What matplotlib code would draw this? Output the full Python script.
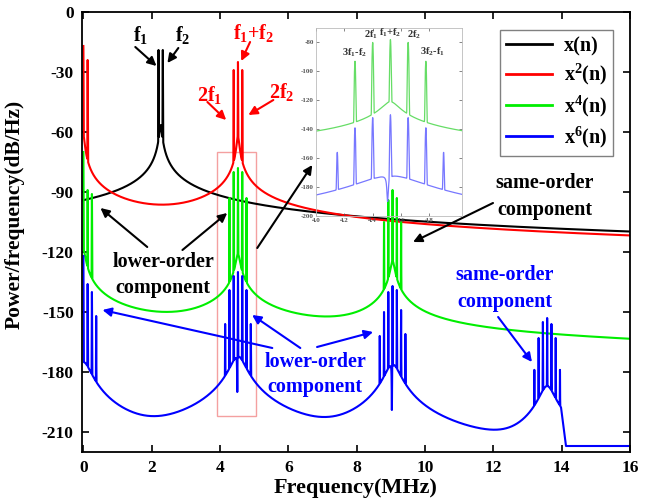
import numpy as np
import matplotlib
matplotlib.use("Agg")
import matplotlib.pyplot as plt
from matplotlib.patches import Rectangle

plt.rcParams.update({
    "font.family": ["Liberation Serif", "DejaVu Serif"],
    "font.weight": "bold",
    "mathtext.default": "regular",
    "axes.linewidth": 1.3,
    "axes.unicode_minus": False,
})

# ---------------------------------------------------------------------------
# Spectral content of each signal: discrete tones (MHz, peak dB/Hz) and the
# leakage skirt of every tone cluster (cluster centre MHz, level 1 MHz away).
# ---------------------------------------------------------------------------
series_labels = ["x(n)", "x$^2$(n)", "x$^4$(n)", "x$^6$(n)"]
series_colors = ["#000000", "#ff0000", "#00ee00", "#0000ff"]

x1_tone_mhz = [2.20, 2.325]
x1_tone_db = [-19, -19]
x1_skirt_mhz = [2.2625]
x1_skirt_db = [-87]

x2_tone_mhz = [0.0, 0.125, 4.40, 4.525, 4.65]
x2_tone_db = [-17, -24, -29, -25, -29]
x2_skirt_mhz = [0.0, 4.525]
x2_skirt_db = [-92, -92.5]

x4_tone_mhz = [0.0, 0.125, 0.25,
               4.275, 4.40, 4.525, 4.65, 4.775,
               8.80, 8.925, 9.05, 9.175, 9.30]
x4_tone_db = [-70, -89, -91,
              -93, -80, -78, -80, -93,
              -105, -94, -89, -93, -105]
x4_skirt_mhz = [0.0, 4.525, 9.05]
x4_skirt_db = [-145, -147, -150.5]

x6_tone_mhz = [0.0, 0.125, 0.25, 0.375,
               4.15, 4.275, 4.40, 4.525, 4.65, 4.775, 4.90,
               8.675, 8.80, 8.925, 9.05, 9.175, 9.30, 9.425,
               13.20, 13.325, 13.45, 13.575, 13.70, 13.825, 13.95]
x6_tone_db = [-122, -136, -140, -152,
              -156, -139, -132, -130, -132, -139, -156,
              -162, -150, -140, -137, -139, -149, -161,
              -179, -163, -155, -153, -156, -163, -179]
x6_skirt_mhz = [0.0, 4.525, 9.05, 13.575]
x6_skirt_db = [-196, -193, -197, -208]
x6_notch_mhz = [4.505, 9.03]
x6_notch_db = [-190, -199]
x6_floor_db = -217
x6_cutoff_mhz = 13.98

# skirt roll-off (dB/decade) and core width (MHz) of each series
skirt_slope = [20, 20, 20, 30]
skirt_core = [0.03, 0.03, 0.05, 0.2]

TONE_WIDTH = 0.002
FREQ_STEP = 0.0005


def psd(freq, tone_mhz, tone_db, skirt_mhz, skirt_db, slope, core,
        notch_mhz=(), notch_db=()):
    base = np.zeros_like(freq)
    for c, lvl in zip(skirt_mhz, skirt_db):
        d = np.sqrt((freq - c) ** 2 + core ** 2)
        base += 10 ** ((lvl - slope * np.log10(d)) / 10)
    base_db = 10 * np.log10(base)
    for c, lvl in zip(notch_mhz, notch_db):
        if not (freq[0] <= c <= freq[-1]):
            continue
        at_c = np.interp(c, freq, base_db)
        w = 0.006
        base_db = base_db - (at_c - lvl) * w ** 2 / ((freq - c) ** 2 + w ** 2)
    p = 10 ** (base_db / 10)
    for c, lvl in zip(tone_mhz, tone_db):
        p += 10 ** (lvl / 10) * np.exp(-0.5 * ((freq - c) / TONE_WIDTH) ** 2)
    return 10 * np.log10(p)


def spectra(freq):
    s1 = psd(freq, x1_tone_mhz, x1_tone_db, x1_skirt_mhz, x1_skirt_db,
             skirt_slope[0], skirt_core[0])
    s2 = psd(freq, x2_tone_mhz, x2_tone_db, x2_skirt_mhz, x2_skirt_db,
             skirt_slope[1], skirt_core[1])
    s4 = psd(freq, x4_tone_mhz, x4_tone_db, x4_skirt_mhz, x4_skirt_db,
             skirt_slope[2], skirt_core[2])
    s6 = psd(freq, x6_tone_mhz, x6_tone_db, x6_skirt_mhz, x6_skirt_db,
             skirt_slope[3], skirt_core[3], x6_notch_mhz, x6_notch_db)
    beyond = freq > x6_cutoff_mhz
    s6 = np.where(beyond,
                  np.maximum(x6_floor_db, s6 - 110 * (freq - x6_cutoff_mhz)),
                  s6)
    return [s1, s2, s4, s6]


freq = np.arange(0, 16 + FREQ_STEP / 2, FREQ_STEP)
curves = spectra(freq)

fig = plt.figure(figsize=(6.51, 5.04), dpi=100)
ax = fig.add_axes([82 / 651, 1 - 452 / 504, 548 / 651, 440 / 504])

lines = []
for y, c, lab in zip(curves, series_colors, series_labels):
    ln, = ax.plot(freq, y, color=c, lw=1.5, label=lab, zorder=2)
    lines.append(ln)

ax.set_xlim(-0.04, 16)
ax.set_ylim(-220, 0)
ax.set_xticks(np.arange(0, 17, 2))
ax.set_yticks(np.arange(-210, 1, 30))
ax.tick_params(direction="in", length=5, width=1.2, top=True, right=True,
               labelsize=12.5, pad=6)
for t in ax.get_xticklabels() + ax.get_yticklabels():
    t.set_fontweight("bold")
ax.set_xlabel("Frequency(MHz)", fontsize=16, fontweight="bold", labelpad=1)
ax.set_ylabel("Power/frequency(dB/Hz)", fontsize=15.5, fontweight="bold")
ax.yaxis.set_label_coords(-0.105, 0.54)

leg = ax.legend(handles=lines, loc="upper left",
                bbox_to_anchor=(0.763, 0.959), borderaxespad=0,
                fancybox=False, edgecolor="#808080", framealpha=1,
                prop={"size": 14.5, "weight": "bold"}, handlelength=2.3,
                handletextpad=0.55, labelspacing=0.3, borderpad=0.3)
leg.get_frame().set_linewidth(1.0)
for h in leg.legend_handles:
    h.set_linewidth(2.0)

# zoom window marker
ax.add_patch(Rectangle((3.9, -202), 1.15, 132, fill=False,
                       edgecolor="#f4a0a0", lw=1.0, zorder=1.5))


def arrow(tail, head, color):
    ax.annotate("", xy=head, xytext=tail,
                arrowprops=dict(arrowstyle="-|>", color=color, lw=1.5,
                                mutation_scale=13, shrinkA=0, shrinkB=0))


txt = dict(fontsize=14.5, fontweight="bold", ha="center", va="center")

ax.text(1.67, -11.5, "f$_1$", color="black", **txt)
ax.text(2.90, -11.5, "f$_2$", color="black", **txt)
arrow((1.52, -17.5), (2.14, -27), "black")
arrow((2.78, -18), (2.46, -25.5), "black")

ax.text(4.97, -10.5, "f$_1$+f$_2$", color="#ff0000", **txt)
ax.text(3.71, -41.5, "2f$_1$", color="#ff0000", **txt)
ax.text(5.82, -40.0, "2f$_2$", color="#ff0000", **txt)
arrow((4.88, -15), (4.62, -24.5), "#ff0000")
arrow((3.63, -45), (4.18, -54), "#ff0000")
arrow((5.56, -44), (4.83, -51.5), "#ff0000")

ax.text(2.34, -125, "lower-order", color="black", **txt)
ax.text(2.34, -138, "component", color="black", **txt)
arrow((1.87, -117.5), (0.5, -98), "black")
arrow((2.90, -119), (4.21, -100.5), "black")
arrow((5.09, -118), (6.70, -76.5), "black")

ax.text(13.51, -85.5, "same-order", color="black", **txt)
ax.text(13.51, -99, "component", color="black", **txt)
arrow((11.99, -95.5), (9.65, -115), "black")

ax.text(6.79, -175, "lower-order", color="#0000ff", **txt)
ax.text(6.79, -187.5, "component", color="#0000ff", **txt)
arrow((6.35, -168), (4.94, -151.5), "#0000ff")
arrow((6.84, -167.5), (8.48, -160), "#0000ff")
arrow((5.53, -168), (0.56, -149), "#0000ff")

ax.text(12.34, -131.5, "same-order", color="#0000ff", **txt)
ax.text(12.34, -145, "component", color="#0000ff", **txt)
arrow((12.14, -152.5), (13.13, -175), "#0000ff")

# inset: close-up of the second-order cluster for x^4 and x^6
ins = fig.add_axes([316 / 651, 1 - 216 / 504, 146 / 651, 188 / 504])
ins.patch.set_alpha(0)
fz = np.arange(4.0, 5.03 + FREQ_STEP / 4, FREQ_STEP / 2)
zc = spectra(fz)
ins.plot(fz, zc[2], color="#66dd66", lw=0.9)
ins.plot(fz, zc[3], color="#7777ff", lw=0.9)
ins.set_xlim(4.0, 5.03)
ins.set_ylim(-200, -70)
ins.set_xticks([4.0, 4.2, 4.4, 4.6, 4.8])
ins.set_yticks(np.arange(-200, -79, 20))
ins.tick_params(direction="in", length=2, width=0.5, labelsize=5,
                colors="#555555", pad=1.5, top=True, right=True)
for sp in ins.spines.values():
    sp.set_color("#bbbbbb")
    sp.set_linewidth(0.6)
itxt = dict(fontsize=7.5, fontweight="bold", ha="center", va="center",
            color="#333333")
ins.text(4.39, -74.8, "2f$_1$", **itxt)
ins.text(4.525, -73.5, "f$_1$+f$_2$", **itxt)
ins.text(4.69, -74.8, "2f$_2$", **itxt)
ins.text(4.27, -87.3, "3f$_1$-f$_2$", **itxt)
ins.text(4.82, -86.6, "3f$_2$-f$_1$", **itxt)

fig.savefig("out.png", dpi=100)
